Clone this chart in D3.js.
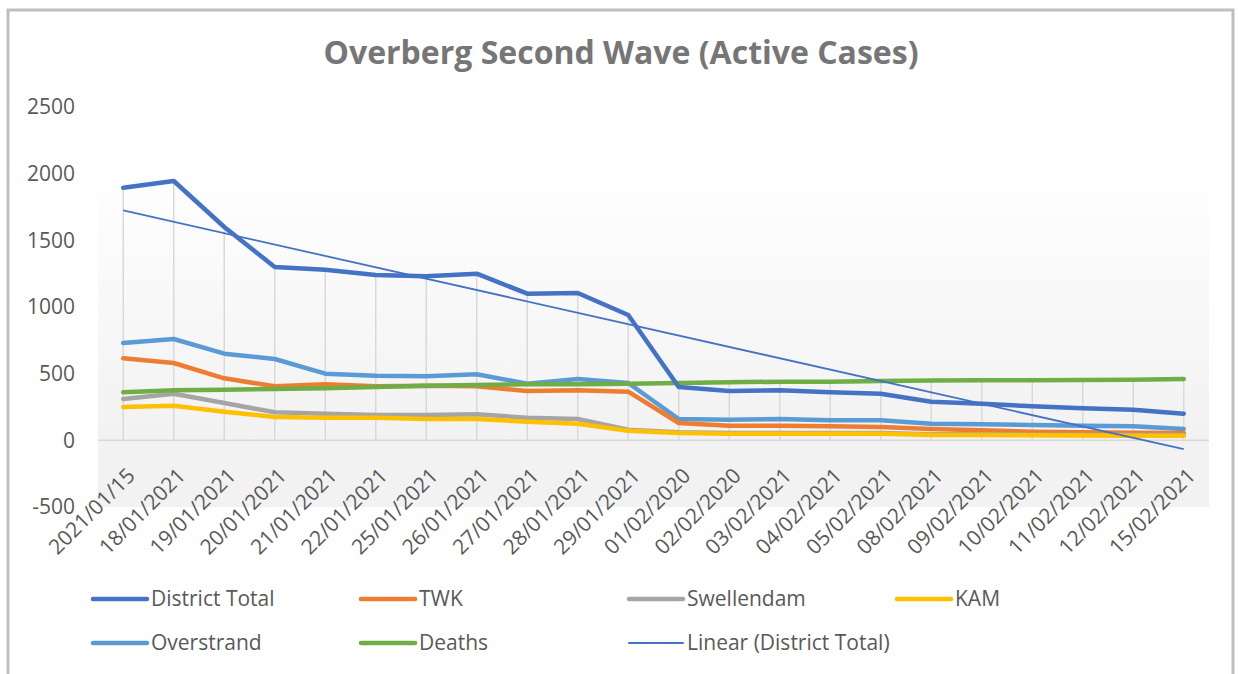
<!DOCTYPE html>
<html>
<head>
<meta charset="utf-8">
<script src="https://cdn.jsdelivr.net/npm/d3@7"></script>
<style>
  body { margin: 0; background: #fff; }
  svg { display: block; }
  text { font-family: "Open Sans", sans-serif; }
</style>
</head>
<body>
<div id="chart"></div>
<script>
// categories (as printed on the axis)
const dates = ["2021/01/15", "18/01/2021", "19/01/2021", "20/01/2021", "21/01/2021", "22/01/2021",
  "25/01/2021", "26/01/2021", "27/01/2021", "28/01/2021", "29/01/2021", "01/02/2020", "02/02/2020",
  "03/02/2021", "04/02/2021", "05/02/2021", "08/02/2021", "09/02/2021", "10/02/2021", "11/02/2021",
  "12/02/2021", "15/02/2021"];

const districtTotal = [1895, 1945, 1600, 1300, 1280, 1240, 1230, 1250, 1100, 1105, 940, 400, 370, 375, 360, 350, 290, 275, 255, 240, 230, 200];
const twk = [615, 580, 465, 405, 420, 405, 410, 405, 370, 375, 365, 130, 110, 110, 105, 100, 85, 75, 65, 60, 57, 55];
const swellendam = [310, 350, 280, 210, 200, 190, 190, 195, 170, 160, 80, 60, 55, 55, 55, 55, 45, 45, 42, 40, 40, 40];
const kam = [250, 260, 215, 175, 170, 170, 160, 160, 140, 125, 72, 55, 50, 50, 50, 50, 40, 40, 38, 37, 35, 35];
const overstrand = [730, 760, 650, 610, 500, 485, 480, 495, 425, 460, 430, 160, 155, 160, 150, 150, 125, 120, 115, 110, 105, 85];
const deaths = [360, 375, 380, 385, 390, 400, 410, 415, 420, 420, 425, 430, 435, 440, 440, 445, 448, 450, 450, 452, 455, 460];

const yTicks = [-500, 0, 500, 1000, 1500, 2000, 2500];

const series = [
  {name: "District Total", values: districtTotal, color: "#4472C4"},
  {name: "TWK", values: twk, color: "#ED7D31"},
  {name: "Swellendam", values: swellendam, color: "#A5A5A5"},
  {name: "KAM", values: kam, color: "#FFC000"},
  {name: "Overstrand", values: overstrand, color: "#5B9BD5"},
  {name: "Deaths", values: deaths, color: "#70AD47"}
];

const config = {
  width: 1238,
  height: 674,
  plot: {left: 98, right: 1209, top: 107, bottom: 507},
  textColor: "#595959",
  fontSize: 21,
  lineWidth: 4.5
};

const svg = d3.select("#chart").append("svg")
  .attr("width", config.width)
  .attr("height", config.height);

// chart border
svg.append("rect")
  .attr("x", 8).attr("y", 10)
  .attr("width", 1225).attr("height", 700)
  .attr("fill", "#fff")
  .attr("stroke", "#bfbfbf")
  .attr("stroke-width", 3);

const x = d3.scaleBand()
  .domain(dates)
  .range([config.plot.left, config.plot.right]);
const cx = d => x(d) + x.bandwidth() / 2;

const y = d3.scaleLinear()
  .domain([-500, 2500])
  .range([config.plot.bottom, config.plot.top]);

// plot area background (white to light grey)
const grad = svg.append("defs").append("linearGradient")
  .attr("id", "bg")
  .attr("x1", 0).attr("y1", 0).attr("x2", 0).attr("y2", 1);
grad.append("stop").attr("offset", 0.13).attr("stop-color", "#ffffff");
grad.append("stop").attr("offset", 0.83).attr("stop-color", "#f2f2f2");
grad.append("stop").attr("offset", 1).attr("stop-color", "#f2f2f2");

svg.append("rect")
  .attr("x", config.plot.left)
  .attr("y", config.plot.top)
  .attr("width", config.plot.right - config.plot.left)
  .attr("height", config.plot.bottom - config.plot.top)
  .attr("fill", "url(#bg)");

// title
svg.append("text")
  .attr("x", 621).attr("y", 64)
  .attr("text-anchor", "middle")
  .attr("font-size", 32)
  .attr("font-weight", "bold")
  .attr("fill", "#767676")
  .text("Overberg Second Wave (Active Cases)");

// y axis labels
const yAxis = d3.axisLeft(y).tickValues(yTicks).tickSize(0).tickPadding(0).tickFormat(d => String(d));
svg.append("g")
  .attr("transform", "translate(75,0)")
  .call(yAxis)
  .call(g => g.select(".domain").remove())
  .call(g => g.selectAll("text")
    .attr("font-family", null)
    .attr("font-size", config.fontSize)
    .attr("fill", config.textColor));

// zero line
svg.append("line")
  .attr("x1", config.plot.left).attr("x2", config.plot.right)
  .attr("y1", y(0)).attr("y2", y(0))
  .attr("stroke", "#d9d9d9")
  .attr("stroke-width", 1.5);

// drop lines from the highest series down to the axis
svg.append("g")
  .selectAll("line")
  .data(dates)
  .join("line")
  .attr("x1", d => cx(d)).attr("x2", d => cx(d))
  .attr("y1", y(0))
  .attr("y2", (d, i) => y(d3.max(series, s => s.values[i])))
  .attr("stroke", "#d9d9d9")
  .attr("stroke-width", 1.5);

// x labels
svg.append("g")
  .selectAll("text")
  .data(dates)
  .join("text")
  .attr("transform", d => `translate(${cx(d) + 13},${477}) rotate(-45)`)
  .attr("text-anchor", "end")
  .attr("font-size", config.fontSize)
  .attr("fill", config.textColor)
  .text(d => d);

// series
const line = d3.line()
  .x((v, i) => cx(dates[i]))
  .y(v => y(v));

const drawOrder = ["Overstrand", "TWK", "Swellendam", "KAM", "Deaths", "District Total"];
svg.append("g")
  .selectAll("path")
  .data(drawOrder.map(n => series.find(s => s.name === n)))
  .join("path")
  .attr("d", s => line(s.values))
  .attr("fill", "none")
  .attr("stroke", s => s.color)
  .attr("stroke-width", config.lineWidth)
  .attr("stroke-linejoin", "round")
  .attr("stroke-linecap", "round");

// linear trendline of District Total (least squares)
const idx = d3.range(districtTotal.length);
const mx = d3.mean(idx), my = d3.mean(districtTotal);
const slope = d3.sum(idx, i => (i - mx) * (districtTotal[i] - my)) / d3.sum(idx, i => (i - mx) ** 2);
const intercept = my - slope * mx;
const trend = [0, idx.length - 1];
svg.append("line")
  .attr("x1", cx(dates[trend[0]])).attr("y1", y(intercept + slope * trend[0]))
  .attr("x2", cx(dates[trend[1]])).attr("y2", y(intercept + slope * trend[1]))
  .attr("stroke", "#4472C4")
  .attr("stroke-width", 1.8);

// legend
const legendItems = series.map(s => ({name: s.name, color: s.color, width: config.lineWidth}))
  .concat([{name: "Linear (District Total)", color: "#4472C4", width: 2}]);
const legend = svg.append("g")
  .selectAll("g")
  .data(legendItems)
  .join("g")
  .attr("transform", (d, i) => `translate(${93 + (i % 4) * 268},${599 + Math.floor(i / 4) * 44})`);
legend.append("line")
  .attr("x1", 0).attr("x2", 54)
  .attr("stroke", d => d.color)
  .attr("stroke-width", d => d.width)
  .attr("stroke-linecap", "round");
legend.append("text")
  .attr("x", 58)
  .attr("dy", "0.35em")
  .attr("font-size", config.fontSize)
  .attr("fill", config.textColor)
  .text(d => d.name);
</script>
</body>
</html>
